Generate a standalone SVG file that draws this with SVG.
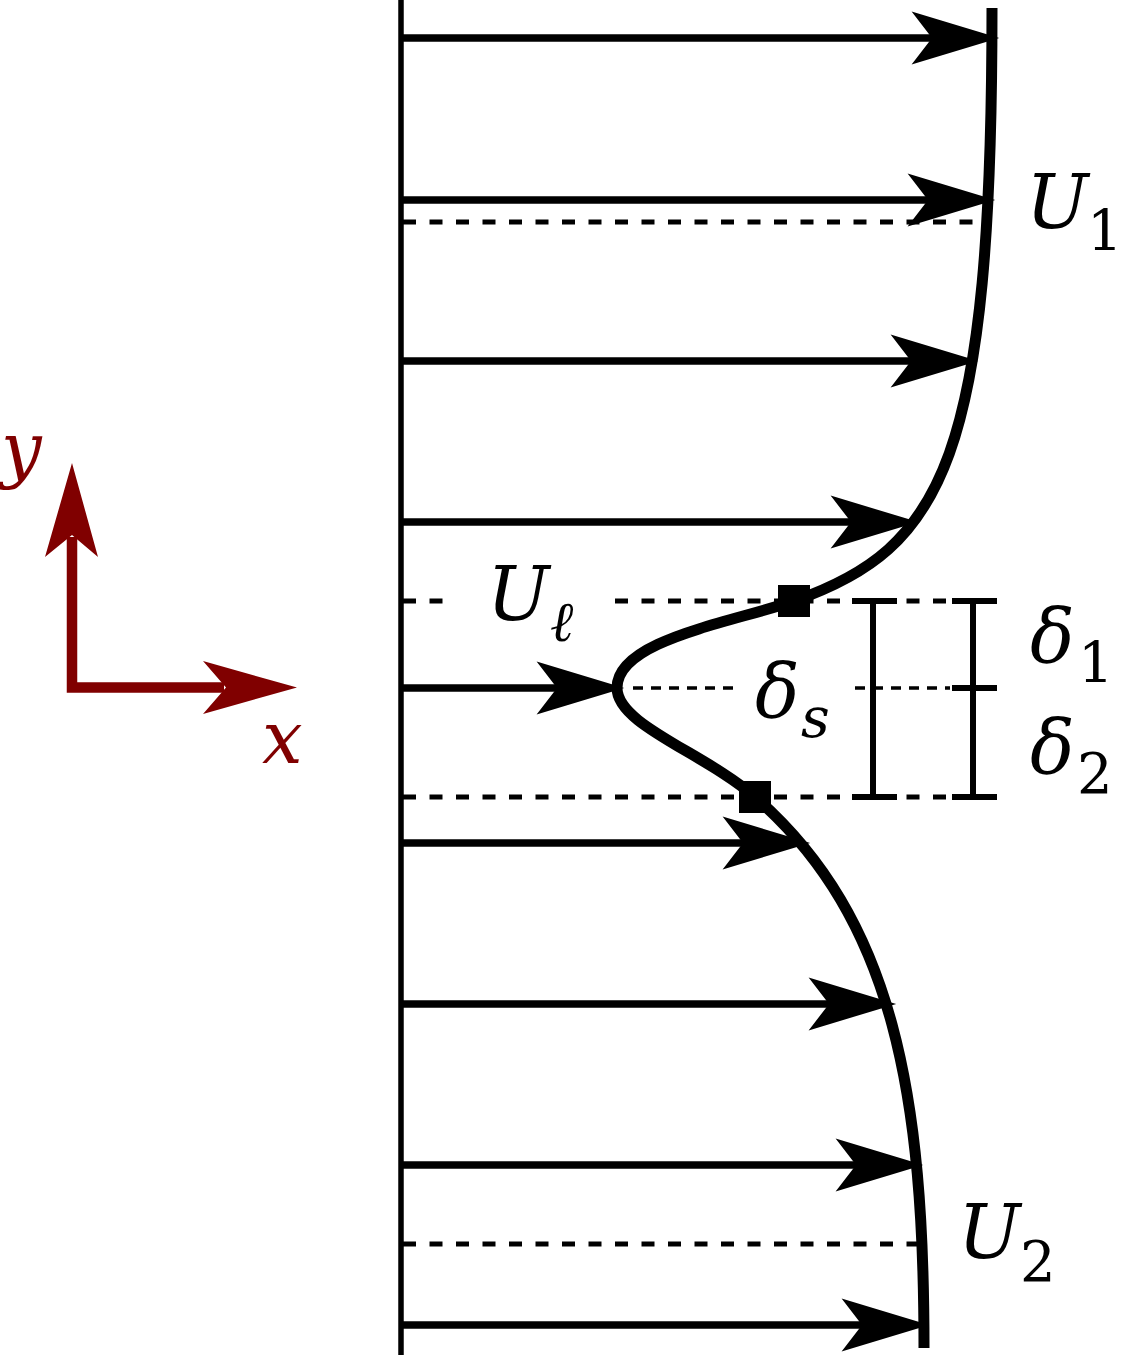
<svg xmlns="http://www.w3.org/2000/svg" width="1121" height="1355" viewBox="0 0 1121 1355">
<style>
text{font-family:"DejaVu Serif","Liberation Serif",serif;fill:#000}
.it{font-style:italic}
.big{font-size:74px}
.sub{font-size:56px}
.vec{stroke:#000;stroke-width:7.5;fill:none}
.dash{stroke:#000;stroke-width:5;stroke-dasharray:13 13.5;fill:none}
.thin{stroke:#000;stroke-width:3.5;stroke-dasharray:10 8;fill:none}
.bar{stroke:#000;stroke-width:6;fill:none}
.ax{stroke:#800000;stroke-width:10.5;fill:none;stroke-linejoin:miter}
.axl{font-size:72px;font-style:italic;fill:#800000}
</style>
<defs>
<marker id="head" markerUnits="userSpaceOnUse" markerWidth="120" markerHeight="60" refX="0" refY="0" viewBox="-20 -25 80 50" orient="auto" overflow="visible">
<path d="M56 0 L-17 -22 L0 0 L-17 22 Z" fill="#000"/>
</marker>
</defs>
<rect width="1121" height="1355" fill="#fff"/>

<g id="wall"><line x1="401" y1="0" x2="401" y2="1355" stroke="#000" stroke-width="5.5"/></g>

<g id="guides">
<path class="dash" d="M403 222 H985"/>
<path class="dash" d="M403 601 H445"/>
<path class="dash" d="M615 601 H997"/>
<path class="dash" d="M403 797 H997"/>
<path class="dash" d="M403 1244 H917"/>
<path class="thin" d="M633 688 H737"/>
<path class="thin" d="M855 688 H950"/>
</g>

<g id="connectors">
<path class="vec" d="M401 38 H932" marker-end="url(#head)"/>
<path class="vec" d="M401 200 H928" marker-end="url(#head)"/>
<path class="vec" d="M401 361 H911" marker-end="url(#head)"/>
<path class="vec" d="M401 522 H851" marker-end="url(#head)"/>
<path class="vec" d="M401 688 H557" marker-end="url(#head)"/>
<path class="vec" d="M401 843 H743" marker-end="url(#head)"/>
<path class="vec" d="M401 1004 H829" marker-end="url(#head)"/>
<path class="vec" d="M401 1165 H856" marker-end="url(#head)"/>
<path class="vec" d="M401 1325 H862" marker-end="url(#head)"/>
</g>

<g id="profile">
<path d="M992 8 C992 458 944 548.5 794 601 C730 623 617 640 617 688 C617 725 705 753 755 797 C895 919 924 1098 924 1348" stroke="#000" stroke-width="11" fill="none"/>
<rect x="778" y="585" width="32" height="32" fill="#000"/>
<rect x="739" y="781" width="32" height="32" fill="#000"/>
</g>

<g id="thickness-bars">
<path class="bar" d="M873 601 V797 M852 601 H897 M852 797 H897"/>
<path class="bar" d="M973 601 V797 M952 601 H997 M952 688 H997 M952 797 H997"/>
</g>

<g id="axes">
<path class="ax" d="M72 537 V687.5 H224"/>
<path d="M72 463 L98 557 L72 535 L45 557 Z" fill="#800000"/>
<path d="M297 687.5 L203 714 L226 687.5 L203 661 Z" fill="#800000"/>
<text class="axl" x="1" y="474">y</text>
<text class="axl" x="262" y="763">x</text>
</g>

<g id="label-U1"><text><tspan class="it big" x="1026" y="228">U</tspan><tspan class="sub" x="1087" y="250">1</tspan></text></g>
<g id="label-U2"><text><tspan class="it big" x="958" y="1258">U</tspan><tspan class="sub" x="1020" y="1281">2</tspan></text></g>
<g id="label-Ul"><text><tspan class="it big" x="487" y="620">U</tspan><tspan class="it sub" x="550" y="641">ℓ</tspan></text></g>
<g id="label-ds"><text><tspan class="it big" x="755" y="717">δ</tspan><tspan class="it sub" x="801" y="737">s</tspan></text></g>
<g id="label-d1"><text><tspan class="it big" x="1030" y="662">δ</tspan><tspan class="sub" x="1078" y="682">1</tspan></text></g>
<g id="label-d2"><text><tspan class="it big" x="1030" y="773">δ</tspan><tspan class="sub" x="1077" y="793">2</tspan></text></g>
</svg>
